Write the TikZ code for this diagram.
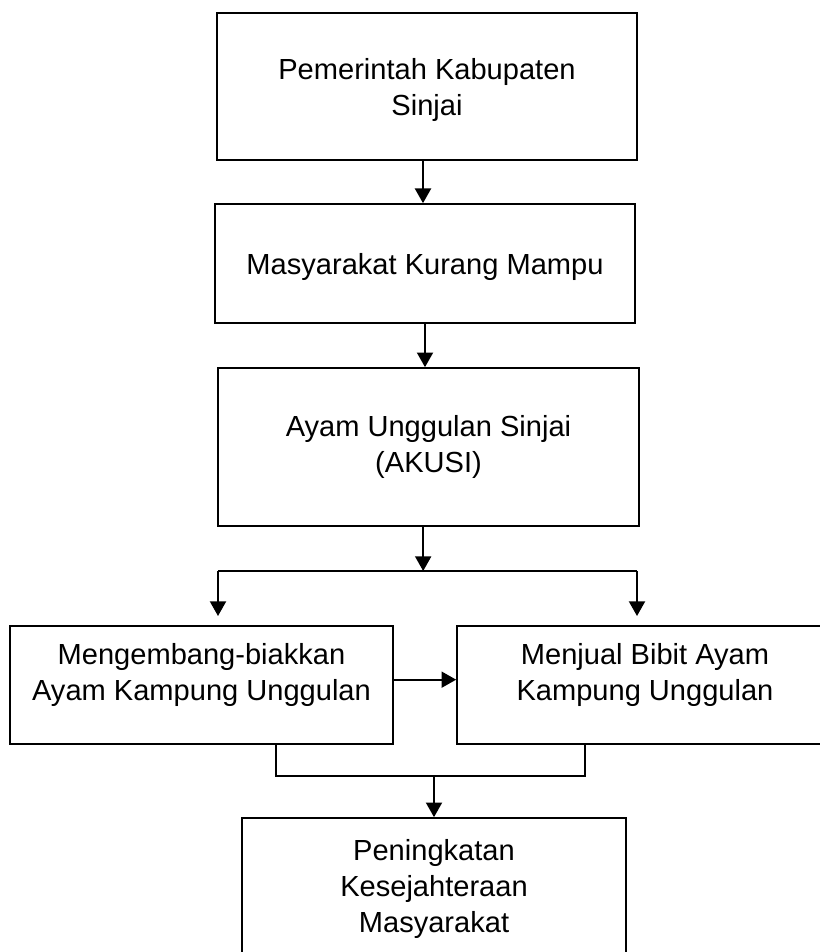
\documentclass[tikz,border=0pt]{standalone}
\usepackage{fontspec}
\setmainfont{Liberation Sans}
\usetikzlibrary{arrows.meta}
\tikzset{
>={Triangle[length=11pt,width=12pt]},
kotak/.style={draw,line width=1.25pt,align=center,inner sep=0pt},
panah/.style={->,line width=1.5pt},
cabang/.style={line width=1.5pt},
garis/.style={line width=1pt}}

\begin{document}
\begin{tikzpicture}[x=0.75pt,y=-0.75pt,font=\fontsize{21.8}{27}\selectfont]

\useasboundingbox (0,0) rectangle (819,952);

\node[kotak,minimum width=315pt,minimum height=110.25pt,text depth=-4.5pt] (1) at (427,86.5) {Pemerintah Kabupaten\\Sinjai};
\node[kotak,minimum width=315pt,minimum height=89.25pt,text depth=0pt] (2) at (425,263.5) {Masyarakat Kurang Mampu};
\node[kotak,minimum width=315.75pt,minimum height=118.5pt] (3) at (428.5,447) {Ayam Unggulan Sinjai\\(AKUSI)};
\node[kotak,minimum width=287.25pt,minimum height=88.5pt,text depth=19pt] (4) at (201.5,685) {Mengembang-biakkan\\Ayam Kampung Unggulan};
\node[kotak,minimum width=282pt,minimum height=88.5pt,text depth=19pt] (5) at (645,685) {Menjual Bibit Ayam\\Kampung Unggulan};
\node[kotak,minimum width=288pt,minimum height=106.5pt] (6) at (434,889) {Peningkatan\\Kesejahteraan\\Masyarakat};

\coordinate (a) at (218,571);
\coordinate (b) at (637,571);
\coordinate (a1) at (218,616);
\coordinate (b1) at (637,616);
\coordinate (c) at (276,776);
\coordinate (d) at (585,776);

\draw[panah] ([xshift=-3pt]1.south) -- ([xshift=-3pt]1.south |- 2.north);
\draw[panah] (2.south) -- (2.south |- 3.north);
\draw[panah] ([xshift=-4pt]3.south) -- ([xshift=-4pt]3.south |- a);
\draw[cabang] (a) -- (b);
\draw[panah] (a) -- (a1);
\draw[panah] (b) -- (b1);
\draw[panah] ([yshift=4pt]4.east) -- ([yshift=4pt]5.west);
\draw[garis] (4.south -| c) -- (c) -- (d) -- (5.south -| d);
\draw[panah] (6.north |- c) -- (6.north);

\end{tikzpicture}
\end{document}
